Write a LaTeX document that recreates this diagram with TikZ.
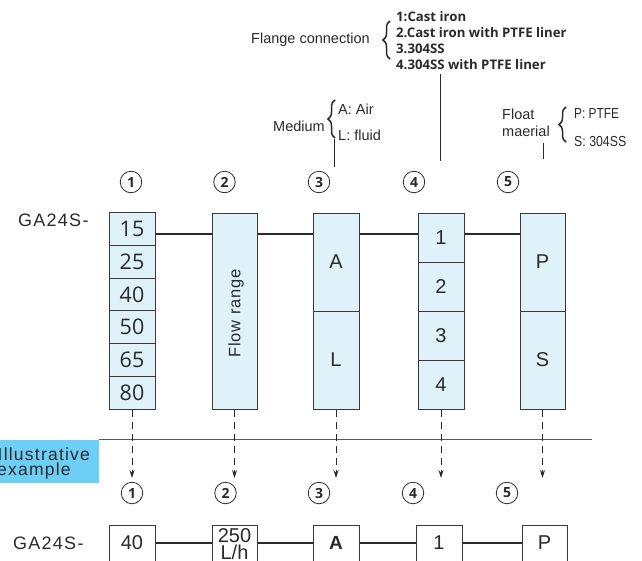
\documentclass[tikz,border=0pt]{standalone}
\usepackage{fontspec}
\setmainfont{Liberation Sans}
\newfontfamily\osans{Open Sans}
\newfontfamily\lsA{Liberation Sans}[LetterSpace=7]
\newfontfamily\lsB{Liberation Sans}[LetterSpace=5]
\usetikzlibrary{arrows.meta,decorations.pathreplacing,calc}
\definecolor{boxfill}{HTML}{DFF2FA}
\definecolor{boxline}{HTML}{3A3A3A}
\definecolor{ink}{HTML}{2A2A2A}
\definecolor{illus}{HTML}{6DCFF6}
\definecolor{sepgray}{HTML}{5A5A5A}
\begin{document}
\begin{tikzpicture}[x=1pt,y=-1pt,
  cell/.style={draw=boxline, fill=boxfill, line width=1pt, inner sep=0, minimum width=46pt, text=ink},
  wcell/.style={draw=boxline, fill=white, line width=1pt, inner sep=0, minimum width=46pt, minimum height=36pt, text=ink},
  link/.style={draw=ink, line width=2.2pt},
  ann/.style={font=\fontsize{14.5}{16}\selectfont, text=ink, inner sep=0, anchor=base west},
  itm/.style={font=\osans\bfseries\fontsize{13.2}{14}\selectfont, text=ink, inner sep=0, anchor=base west},
  leader/.style={draw=ink, line width=0.9pt},
  brc/.style={draw=ink, line width=1.5pt, decorate, decoration={brace, amplitude=7pt}},
  num/.style={circle, draw=ink, line width=0.8pt, minimum size=21.5pt, inner sep=0, text=ink, font=\osans\bfseries\fontsize{14}{14}\selectfont},
  darr/.style={draw=ink, line width=0.9pt, dash pattern=on 7pt off 5pt, -{Stealth[length=8pt,width=5pt]}},
  big/.style={font=\fontsize{20}{22}\selectfont},
  dig/.style={font=\osans\fontsize{21.5}{22}\selectfont},
  ga/.style={font=\lsA\fontsize{18}{20}\selectfont, text=ink, inner sep=0, anchor=west},
]
\useasboundingbox (0,0) rectangle (642,560);
\clip (0,0) rectangle (642,560);

% ---------- top annotations ----------
\node[ann] (flc) at (251,43) {Flange connection};
\node[itm] (fl1) at (396,21.7) {1:Cast iron};
\node[itm] (fl2) at (396,37.5) {2.Cast iron with PTFE liner};
\node[itm] (fl3) at (396,53.3) {3.304SS};
\node[itm] (fl4) at (396,69.3) {4.304SS with PTFE liner};
\draw[brc] (390,59) -- (390,21);

\node[ann] (med) at (273,131) {Medium};
\node[ann] (medA) at (338,114) {A: Air};
\node[ann] (medL) at (338,140.7) {L: fluid};
\draw[brc] (335,138) -- (335,100);

\node[ann] (flt1) at (502,119.3) {Float};
\node[ann] (flt2) at (502,136.7) {maerial};
\node[ann] (fltP) at (574,118.3) {\scalebox{0.82}[1]{P: PTFE}};
\node[ann] (fltS) at (574,146.7) {\scalebox{0.85}[1]{S: 304SS}};
\draw[brc] (566,142) -- (566,107);

\coordinate (lf1) at (440,74);  \coordinate (lf2) at (440,161);
\coordinate (lm1) at (334,139); \coordinate (lm2) at (334,167);
\coordinate (lp1) at (543,143); \coordinate (lp2) at (543,159);
\draw[leader] (lf1) -- (lf2);
\draw[leader] (lm1) -- (lm2);
\draw[leader] (lp1) -- (lp2);

% ---------- top circled numbers ----------
\node[num] (t1) at (131,182) {1};
\node[num] (t2) at (224.5,182) {2};
\node[num] (t3) at (319,182) {3};
\node[num] (t4) at (414,182) {4};
\node[num] (t5) at (508,182) {5};

% ---------- top model row ----------
\node[ga] (ga1) at (18,220.5) {GA24S-};

\coordinate (ly) at (0,234);
\node[cell, dig, minimum height=32.7pt] (r15) at (132,229.3) {15};
\node[cell, dig, minimum height=32.7pt] (r25) at (132,262) {25};
\node[cell, dig, minimum height=32.7pt] (r40) at (132,294.7) {40};
\node[cell, dig, minimum height=32.7pt] (r50) at (132,327.3) {50};
\node[cell, dig, minimum height=32.7pt] (r65) at (132,360) {65};
\node[cell, dig, minimum height=32.7pt] (r80) at (132,392.7) {80};

\node[cell, minimum width=45pt, minimum height=196pt] (fr) at (234.5,311) {};
\node[rotate=90, font=\lsB\fontsize{16.5}{17}\selectfont, text=ink, inner sep=0] (frt) at (236,313.5) {Flow range};

\node[cell, big, minimum height=98pt] (mA) at (336,262) {A};
\node[cell, big, minimum height=98pt] (mL) at (336,360) {L};

\node[cell, big, minimum height=49pt] (f1) at (441,237.5) {1};
\node[cell, big, minimum height=49pt] (f2) at (441,286.5) {2};
\node[cell, big, minimum height=49pt] (f3) at (441,335.5) {3};
\node[cell, big, minimum height=49pt] (f4) at (441,384.5) {4};

\node[cell, big, minimum width=45pt, minimum height=98pt] (pP) at (542.5,262) {P};
\node[cell, big, minimum width=45pt, minimum height=98pt] (pS) at (542.5,360) {S};

\draw[link] (r15.east |- ly) -- (fr.west |- ly);
\draw[link] (fr.east |- ly) -- (mA.west |- ly);
\draw[link] (mA.east |- ly) -- (f1.west |- ly);
\draw[link] (f1.east |- ly) -- (pP.west |- ly);

% ---------- separator & illustrative example ----------
\node[fill=illus, minimum width=99pt, minimum height=43pt, inner sep=0, anchor=north west] (ill) at (0,439.5) {};
\node[font=\lsA\fontsize{17.5}{18}\selectfont, text=ink, inner sep=0, anchor=base west] (il1) at (-2.5,460) {Illustrative};
\node[font=\lsA\fontsize{17.5}{18}\selectfont, text=ink, inner sep=0, anchor=base west] (il2) at (-3,475) {example};
\coordinate (sepend) at (592,439.5);
\draw[draw=sepgray, line width=1.2pt] (ill.north east) -- (sepend);

\coordinate (tip) at (0,478);
\draw[darr] (r80.south) -- (r80.south |- tip);
\draw[darr] (fr.south) -- (fr.south |- tip);
\draw[darr] (mL.south) -- (mL.south |- tip);
\draw[darr] (f4.south) -- (f4.south |- tip);
\draw[darr] (pS.south) -- (pS.south |- tip);

% ---------- bottom circled numbers ----------
\node[num] (b1) at (132,493) {1};
\node[num] (b2) at (225.5,493) {2};
\node[num] (b3) at (319,493) {3};
\node[num] (b4) at (413,493) {4};
\node[num] (b5) at (507,493) {5};

% ---------- bottom example row ----------
\node[ga] (ga2) at (13,543.5) {GA24S-};
\node[wcell, big] (e1) at (132,543) {40};
\node[wcell, minimum width=45pt] (e2) at (234.5,543) {};
\node[font=\fontsize{20}{16.5}\selectfont, text=ink, align=center, inner sep=0, anchor=base] (e2t) at (234.5,559) {250\\L/h};
\node[wcell, font=\bfseries\fontsize{19}{20}\selectfont] (e3) at (336,543) {A};
\node[wcell, big] (e4) at (439,543) {1};
\node[wcell, big, minimum width=45pt] (e5) at (544.5,543) {P};
\draw[link] (e1) -- (e2);
\draw[link] (e2) -- (e3);
\draw[link] (e3) -- (e4);
\draw[link] (e4) -- (e5);
\end{tikzpicture}
\end{document}
